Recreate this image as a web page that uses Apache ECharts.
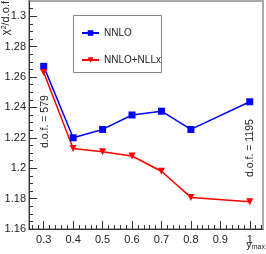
<!DOCTYPE html>
<html><head><meta charset="utf-8">
<script src="https://cdn.jsdelivr.net/npm/echarts@6/dist/echarts.min.js"></script>
<style>html,body{margin:0;padding:0;background:#fff}#c{width:266px;height:254px}</style>
</head><body><div id="c"></div>
<script>
const xValues = [0.3, 0.4, 0.5, 0.6, 0.7, 0.8, 1.0];
const nnlo = [1.267, 1.220, 1.2255, 1.235, 1.2375, 1.2255, 1.2437];
const nnloNllx = [1.263, 1.213, 1.2108, 1.208, 1.198, 1.1808, 1.178];
const xTickLabels = [0.3, 0.4, 0.5, 0.6, 0.7, 0.8, 0.9, 1.0];
const yTickLabels = [1.16, 1.18, 1.2, 1.22, 1.24, 1.26, 1.28, 1.3];
const seriesNames = ['NNLO', 'NNLO+NLLx'];

const X_MIN = 0.25, X_MAX = 1.045, Y_MIN = 1.16, Y_MAX = 1.31;
const xMinor = [];
for (let i = 0; i <= 40; i++) { const v = +(0.26 + i * 0.02).toFixed(3); if (v < X_MAX) xMinor.push(v); }
const yMinor = [];
for (let i = 0; i <= 30; i++) { const v = +(1.16 + i * 0.005).toFixed(4); if (v < Y_MAX) yMinor.push(v); }

const FONT = 'Liberation Sans';
const chart = echarts.init(document.getElementById('c'), null, {renderer: 'canvas'});
const axisCommon = {type: 'value', splitLine: {show: false}};
chart.setOption({
  animation: false,
  grid: {left: 29, right: 3, top: 1, bottom: 25, show: true, borderColor: '#aaa', borderWidth: 2, backgroundColor: 'transparent'},
  xAxis: [
    Object.assign({}, axisCommon, {
      min: X_MIN, max: X_MAX, position: 'bottom',
      axisLine: {show: true, lineStyle: {color: '#333', width: 1}},
      axisTick: {show: true, inside: true, length: 8, customValues: xTickLabels, lineStyle: {color: '#333'}},
      axisLabel: {customValues: xTickLabels, margin: 5, fontSize: 11, color: '#222', fontFamily: FONT,
        formatter: v => String(+v.toFixed(2))}
    }),
    Object.assign({}, axisCommon, {
      min: X_MIN, max: X_MAX, position: 'bottom',
      axisLine: {show: false},
      axisTick: {show: true, inside: true, length: 4, customValues: xMinor, lineStyle: {color: '#333'}},
      axisLabel: {show: false}
    })
  ],
  yAxis: [
    Object.assign({}, axisCommon, {
      min: Y_MIN, max: Y_MAX, position: 'left',
      axisLine: {show: true, lineStyle: {color: '#333', width: 1}},
      axisTick: {show: true, inside: true, length: 8, customValues: yTickLabels, lineStyle: {color: '#333'}},
      axisLabel: {customValues: yTickLabels, margin: 3, fontSize: 11, color: '#222', fontFamily: FONT,
        formatter: v => String(+v.toFixed(2))}
    }),
    Object.assign({}, axisCommon, {
      min: Y_MIN, max: Y_MAX, position: 'left',
      axisLine: {show: false},
      axisTick: {show: true, inside: true, length: 4, customValues: yMinor, lineStyle: {color: '#333'}},
      axisLabel: {show: false}
    })
  ],
  legend: {
    data: seriesNames, orient: 'vertical', left: 76, top: 23,
    itemWidth: 17, itemHeight: 7, itemGap: 17,
    textStyle: {fontSize: 10, color: '#222', fontFamily: FONT}
  },
  series: [
    {name: seriesNames[0], type: 'line', xAxisIndex: 0, yAxisIndex: 0,
     data: xValues.map((x, i) => [x, nnlo[i]]),
     symbol: 'rect', symbolSize: 7, color: '#0000ff',
     lineStyle: {color: '#0000ff', width: 1.5}, itemStyle: {color: '#0000ff'}},
    {name: seriesNames[1], type: 'line', xAxisIndex: 0, yAxisIndex: 0,
     data: xValues.map((x, i) => [x, nnloNllx[i]]),
     symbol: 'triangle', symbolRotate: 180, symbolSize: 7, color: '#ff0000',
     lineStyle: {color: '#ff0000', width: 1.5}, itemStyle: {color: '#ff0000'}}
  ],
  graphic: [
    {type: 'rect', z: 1, shape: {x: 73.5, y: 15.5, width: 88, height: 57},
     style: {fill: '#fff', stroke: '#888', lineWidth: 1}},
    {type: 'text', x: 6, y: 1, rotation: Math.PI / 2, z: 10,
     style: {text: '{a|χ}{s|2}{a|/d.o.f}', align: 'right', verticalAlign: 'middle',
       rich: {a: {fontSize: 11, fontFamily: FONT, fill: '#222'}, s: {fontSize: 7, fontFamily: FONT, fill: '#222', verticalAlign: 'top', padding: [0,0,4,0]}}}},
    {type: 'text', x: 45, y: 148, rotation: Math.PI / 2, z: 10,
     style: {text: 'd.o.f. = 579', fontSize: 10.5, fontFamily: FONT, fill: '#222', align: 'left', verticalAlign: 'middle'}},
    {type: 'text', x: 250, y: 177, rotation: Math.PI / 2, z: 10,
     style: {text: 'd.o.f. = 1195', fontSize: 10.5, fontFamily: FONT, fill: '#222', align: 'left', verticalAlign: 'middle'}},
    {type: 'text', x: 265, y: 245, z: 10,
     style: {text: '{a|y}{s|max}', align: 'right', verticalAlign: 'middle',
       rich: {a: {fontSize: 11, fontFamily: FONT, fill: '#222'}, s: {fontSize: 7, fontFamily: FONT, fill: '#222', padding: [5,0,0,0]}}}}
  ]
});
</script></body></html>
